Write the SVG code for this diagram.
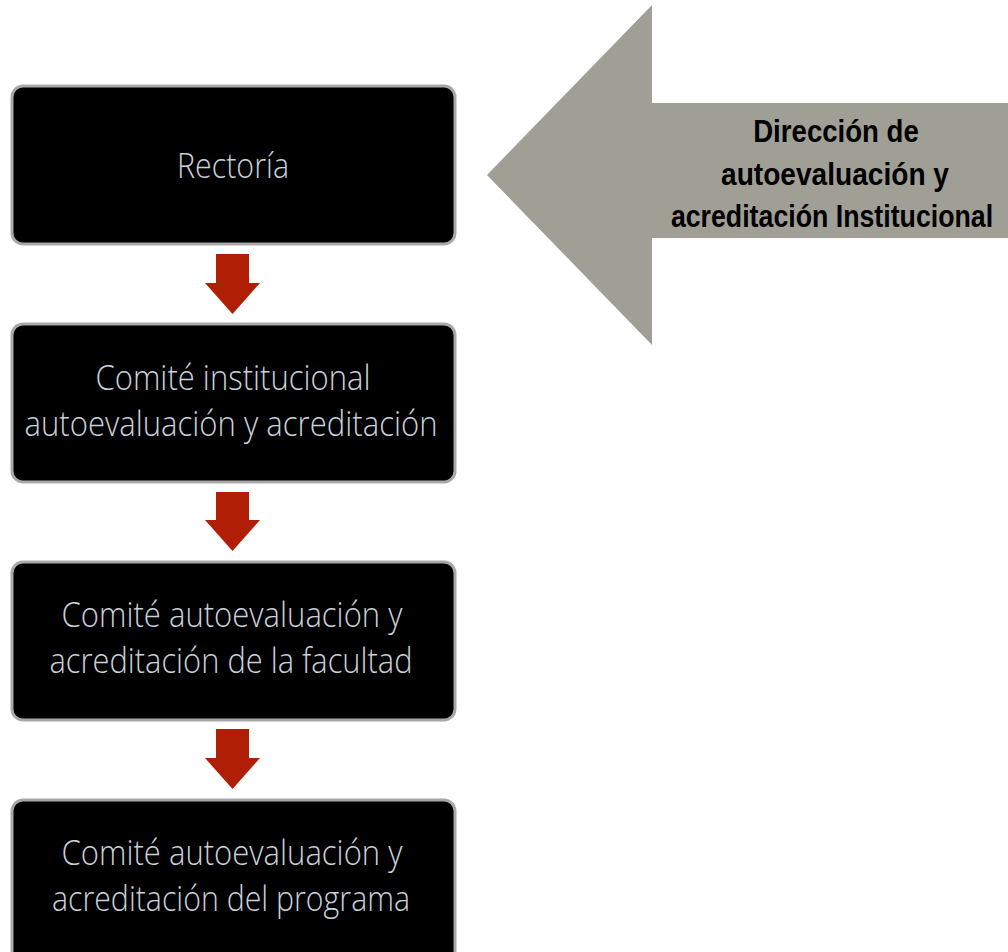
<svg xmlns="http://www.w3.org/2000/svg" width="1008" height="952" viewBox="0 0 1008 952">
<style>
.box{fill:#000;stroke:#a8a8a8;stroke-width:3}
.bt{font-family:"Open Sans","Liberation Sans",sans-serif;font-weight:300;font-size:35px;fill:#c9d2da;text-anchor:middle}
.at{font-family:"Liberation Sans",Arial,sans-serif;font-weight:bold;font-size:31px;fill:#000;text-anchor:middle}
.red{fill:#b01e05}
</style>
<rect width="1008" height="952" fill="#fff"/>
<g id="direccion">
<polygon points="487,175 652,5 652,103 1008,103 1008,238 652,238 652,345" fill="#a09f96"/>
<text class="at" transform="translate(836,142) scale(0.82,1)" x="0" y="0" textLength="202" lengthAdjust="spacingAndGlyphs">Dirección de</text>
<text class="at" transform="translate(835,185) scale(0.82,1)" x="0" y="0" textLength="278" lengthAdjust="spacingAndGlyphs">autoevaluación y</text>
<text class="at" transform="translate(832,227) scale(0.82,1)" x="0" y="0" textLength="393" lengthAdjust="spacingAndGlyphs">acreditación Institucional</text>
</g>
<g id="rectoria">
<rect class="box" x="12" y="86" width="443" height="158" rx="11"/>
<text class="bt" x="233" y="178" textLength="112" lengthAdjust="spacingAndGlyphs">Rectoría</text>
</g>
<g id="comite-institucional">
<rect class="box" x="12" y="324" width="443" height="158" rx="11"/>
<text class="bt" x="233" y="390" textLength="275" lengthAdjust="spacingAndGlyphs">Comité institucional</text>
<text class="bt" x="231" y="436" textLength="413" lengthAdjust="spacingAndGlyphs">autoevaluación y acreditación</text>
</g>
<g id="comite-facultad">
<rect class="box" x="12" y="562" width="443" height="158" rx="11"/>
<text class="bt" x="232" y="627" textLength="341" lengthAdjust="spacingAndGlyphs">Comité autoevaluación y</text>
<text class="bt" x="231" y="673" textLength="363" lengthAdjust="spacingAndGlyphs">acreditación de la facultad</text>
</g>
<g id="comite-programa">
<rect class="box" x="12" y="800" width="443" height="170" rx="11"/>
<text class="bt" x="232" y="865" textLength="341" lengthAdjust="spacingAndGlyphs">Comité autoevaluación y</text>
<text class="bt" x="231" y="911" textLength="358" lengthAdjust="spacingAndGlyphs">acreditación del programa</text>
</g>
<g id="connectors">
<polygon class="red" points="216,254 249,254 249,283 260,283 232.5,314 205,283 216,283"/>
<polygon class="red" points="216,492 249,492 249,520 260,520 232.5,551 205,520 216,520"/>
<polygon class="red" points="216,729 249,729 249,758 260,758 232.5,789 205,758 216,758"/>
</g>
</svg>
